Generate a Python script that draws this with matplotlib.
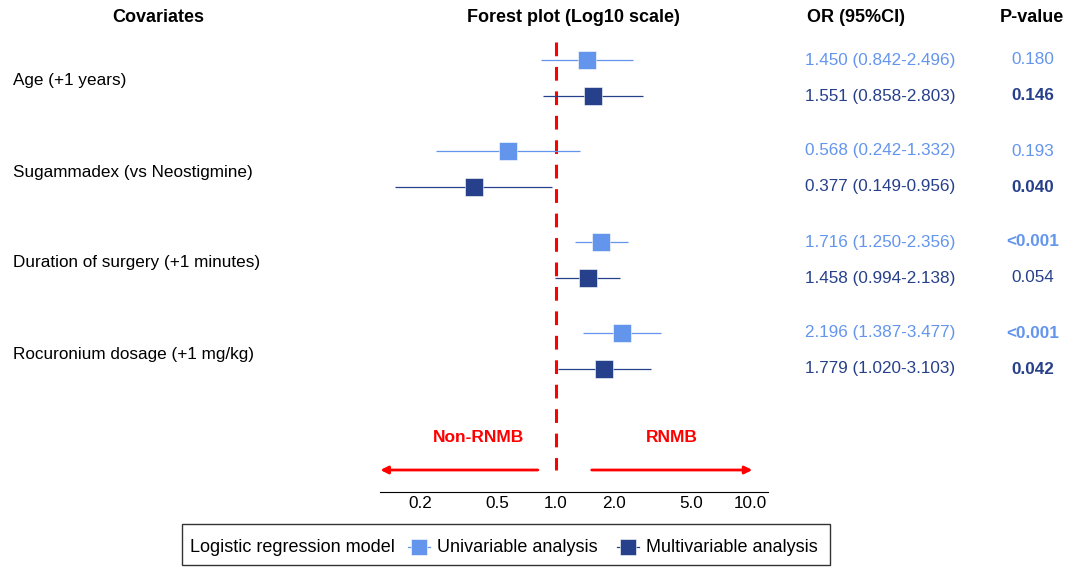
import matplotlib
matplotlib.use("Agg")
import matplotlib.pyplot as plt
from matplotlib.lines import Line2D
from matplotlib.patches import Rectangle

plt.rcParams['font.family'] = ['Liberation Sans', 'DejaVu Sans']

# data
covariates = ['Age (+1 years)', 'Sugammadex (vs Neostigmine)',
              'Duration of surgery (+1 minutes)', 'Rocuronium dosage (+1 mg/kg)']
uni_or = [1.450, 0.568, 1.716, 2.196]
uni_lo = [0.842, 0.242, 1.250, 1.387]
uni_hi = [2.496, 1.332, 2.356, 3.477]
uni_p = ['0.180', '0.193', '<0.001', '<0.001']
multi_or = [1.551, 0.377, 1.458, 1.779]
multi_lo = [0.858, 0.149, 0.994, 1.020]
multi_hi = [2.803, 0.956, 2.138, 3.103]
multi_p = ['0.146', '0.040', '0.054', '0.042']
uni_bold = [False, False, True, True]
multi_bold = [True, True, False, True]
xticks = [0.2, 0.5, 1.0, 2.0, 5.0, 10.0]

c_uni = '#6495ED'
c_multi = '#27408B'
W, H = 1072, 568


def fx(px):
    return px / W


def fy(py):
    return 1 - py / H


fig = plt.figure(figsize=(W / 100, H / 100), dpi=100)

# forest panel, y axis in pixel rows
ax = fig.add_axes([fx(380), fy(492), fx(768) - fx(380), fy(30) - fy(492)])
ax.set_xscale('log')
ax.set_xlim(0.124, 12.4)
ax.set_ylim(492, 30)

row_uni = [60 + 91 * g for g in range(4)]
row_multi = [96 + 91 * g for g in range(4)]

for ys, o, lo, hi, c in [(row_uni, uni_or, uni_lo, uni_hi, c_uni),
                         (row_multi, multi_or, multi_lo, multi_hi, c_multi)]:
    ax.hlines(ys, lo, hi, color=c, lw=0.9, zorder=2)
    ax.plot(o, ys, 's', color=c, ms=12.5, mec='white', mew=0.4, zorder=3)

ax.vlines(1.0, 42, 470, color='red', lw=2.2, linestyles=(0, (4.5, 3.5)), zorder=1)

arrow = dict(arrowstyle='-|>', color='red', lw=2, mutation_scale=11,
             shrinkA=0, shrinkB=0)
ax.annotate('', xy=(0.1245, 470), xytext=(0.807, 470), arrowprops=arrow,
            annotation_clip=False)
ax.annotate('', xy=(10.3, 470), xytext=(1.53, 470), arrowprops=arrow,
            annotation_clip=False)
ax.text(0.40, 437, 'Non-RNMB', color='red', fontsize=12.5, fontweight='bold',
        ha='center', va='center')
ax.text(3.96, 437, 'RNMB', color='red', fontsize=12.5, fontweight='bold',
        ha='center', va='center')

for s in ['top', 'left', 'right']:
    ax.spines[s].set_visible(False)
ax.spines['bottom'].set_linewidth(0.8)
ax.set_yticks([])
ax.set_xticks(xticks)
ax.set_xticklabels(['%.1f' % t for t in xticks])
ax.xaxis.set_minor_locator(matplotlib.ticker.NullLocator())
ax.tick_params(axis='x', length=0, pad=3, labelsize=12.3)

# headers
hdr = dict(fontsize=13, fontweight='bold', ha='center', va='center')
fig.text(fx(158), fy(18), 'Covariates', **hdr)
fig.text(fx(573), fy(18), 'Forest plot (Log10 scale)', **hdr)
fig.text(fx(856), fy(18), 'OR (95%CI)', **hdr)
fig.text(fx(1032), fy(18), 'P-value', **hdr)

fs = 12.3
for g, name in enumerate(covariates):
    fig.text(fx(13), fy((row_uni[g] + row_multi[g]) / 2 + 3), name,
             fontsize=fs, ha='left', va='center')
    fig.text(fx(880), fy(row_uni[g]),
             '%.3f (%.3f-%.3f)' % (uni_or[g], uni_lo[g], uni_hi[g]),
             color=c_uni, fontsize=fs, ha='center', va='center')
    fig.text(fx(880), fy(row_multi[g]),
             '%.3f (%.3f-%.3f)' % (multi_or[g], multi_lo[g], multi_hi[g]),
             color=c_multi, fontsize=fs, ha='center', va='center')
    fig.text(fx(1033), fy(row_uni[g]), uni_p[g], color=c_uni, fontsize=fs,
             fontweight='bold' if uni_bold[g] else 'normal', ha='center', va='center')
    fig.text(fx(1033), fy(row_multi[g]), multi_p[g], color=c_multi, fontsize=fs,
             fontweight='bold' if multi_bold[g] else 'normal', ha='center', va='center')

# legend box drawn by hand
fig.patches.append(Rectangle((fx(182), fy(565)), fx(830) - fx(182), fy(524) - fy(565),
                             transform=fig.transFigure, fill=False, ec='#333333', lw=1))
ly = fy(547)
fig.text(fx(190), ly, 'Logistic regression model', fontsize=13, ha='left', va='center')
for xm, c, lab in [(419, c_uni, 'Univariable analysis'),
                   (628, c_multi, 'Multivariable analysis')]:
    fig.add_artist(Line2D([fx(xm - 11), fx(xm + 11)], [ly, ly], color=c, lw=0.9,
                          transform=fig.transFigure))
    fig.add_artist(Line2D([fx(xm)], [ly], marker='s', ms=12, color=c, mec='white',
                          mew=0.4, transform=fig.transFigure))
    fig.text(fx(xm + 18), ly, lab, fontsize=13, ha='left', va='center')

fig.savefig('out.png', dpi=100)
